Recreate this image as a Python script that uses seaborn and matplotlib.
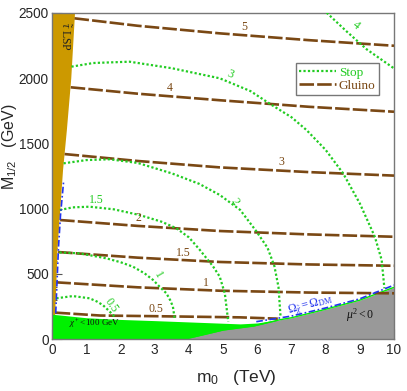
import numpy as np
import pandas as pd
import matplotlib
matplotlib.use('Agg')
import matplotlib.pyplot as plt
import seaborn as sns
from matplotlib.lines import Line2D

# ---------------- data (m0 in TeV, M1/2 in GeV) ----------------
# gluino mass contours (TeV)
gluino_levels = ['5', '4', '3', '2', '1.5', '1', '0.5']
gluino_m0 = {
    '5':   [0.65, 2.5, 4.9, 7.5, 10.0],
    '4':   [0.54, 2.5, 4.9, 7.5, 10.0],
    '3':   [0.36, 2.5, 4.9, 7.5, 10.0],
    '2':   [0.23, 2.5, 4.9, 7.5, 10.0],
    '1.5': [0.17, 2.5, 4.9, 7.5, 10.0],
    '1':   [0.12, 2.5, 4.9, 7.5, 10.0],
    '0.5': [0.10, 1.4, 3.0, 5.5, 6.6],
}
gluino_M = {
    '5':   [2457, 2400, 2342, 2290, 2247],
    '4':   [1929, 1880, 1830, 1780, 1742],
    '3':   [1418, 1365, 1316, 1280, 1253],
    '2':   [913, 868, 829, 803, 785],
    '1.5': [668, 625, 592, 573, 563],
    '1':   [436, 398, 372, 358, 352],
    '0.5': [204, 182, 177, 168, 158],
}
gluino_label_pos = {'5': (5.63, 2388), '4': (3.44, 1921), '3': (6.7, 1360),
                    '2': (2.53, 926), '1.5': (3.83, 658), '1': (4.49, 433),
                    '0.5': (3.03, 230)}

# stop mass contours (TeV)
stop_levels = ['4', '3', '2', '1.5', '1', '0.5']
stop_m0 = {
    '4':   [8.03, 8.6, 9.2, 10.0],
    '3':   [0.56, 1.2, 2.26, 3.5, 4.9, 5.8, 6.42, 7.0, 7.44, 8.0, 8.51, 9.0, 9.44, 9.64, 9.72],
    '2':   [0.33, 1.0, 1.68, 2.5, 3.5, 4.3, 4.9, 5.5, 5.98, 6.3, 6.5, 6.62, 6.68],
    '1.5': [0.22, 0.6, 1.09, 1.8, 2.56, 3.2, 3.63, 4.0, 4.3, 4.5, 4.7, 4.9, 5.05, 5.15],
    '1':   [0.21, 0.8, 1.58, 2.0, 2.36, 2.7, 2.95, 3.15, 3.34, 3.45, 3.53, 3.58],
    '0.5': [0.12, 0.6, 1.09, 1.3, 1.48, 1.65, 1.82],
}
stop_M = {
    '4':   [2500, 2360, 2220, 2074],
    '3':   [2087, 2115, 2125, 2075, 1998, 1900, 1794, 1700, 1602, 1450, 1271, 1040, 785, 607, 390],
    '2':   [1347, 1372, 1378, 1350, 1270, 1190, 1105, 990, 824, 700, 560, 400, 175],
    '1.5': [990, 1010, 1015, 995, 951, 900, 850, 780, 690, 625, 560, 480, 350, 135],
    '1':   [665, 658, 620, 590, 556, 505, 454, 400, 352, 300, 250, 160],
    '0.5': [314, 331, 314, 290, 262, 220, 175],
}
stop_label_pos = {'4': (8.9, 2406, -38), '3': (5.2, 2030, -22), '2': (5.34, 1053, -55),
                  '1.5': (1.29, 1066, 0), '1': (3.09, 492, -60), '0.5': (1.73, 262, -55)}

# excluded / special regions
stau_M = [0, 190, 400, 700, 1000, 1300, 1600, 2000, 2500]
stau_m0 = [0.06, 0.07, 0.10, 0.14, 0.22, 0.30, 0.41, 0.54, 0.65]
chargino_m0 = [0, 1, 2, 3, 4, 5, 5.5, 6, 6.6]
chargino_M = [192, 165, 152, 143, 133, 123, 118, 125, 150]
mu2_m0 = [3.85, 4.5, 5.0, 5.9, 6.66, 7.0, 8.0, 9.0, 10.0]
mu2_M = [0, 40, 71, 102, 150, 165, 230, 300, 398]
relic_left_m0 = [0.10, 0.14, 0.18, 0.24, 0.33]
relic_left_M = [200, 450, 700, 950, 1206]
relic_right_m0 = [5.97, 7.0, 8.0, 9.0, 10.0]
relic_right_M = [135, 178, 240, 310, 415]

x_ticks = [0, 1, 2, 3, 4, 5, 6, 7, 8, 9, 10]
y_ticks = [0, 500, 1000, 1500, 2000, 2500]

# ---------------- style ----------------
sns.set_style('ticks')
plt.rcParams['font.family'] = ['Liberation Sans', 'DejaVu Sans']
plt.rcParams['mathtext.fontset'] = 'custom'
plt.rcParams['mathtext.rm'] = 'Liberation Serif'
plt.rcParams['mathtext.it'] = 'Liberation Serif:italic'
plt.rcParams['mathtext.sf'] = 'Liberation Sans'

C_GOLD = '#cc9900'
C_LIME = '#00f000'
C_GRAY = '#999999'
C_BROWN = '#7a4814'
C_STOP = '#22cc22'
C_BLUE = '#2233ee'
SERIF = ['Liberation Serif', 'DejaVu Serif']

fig = plt.figure(figsize=(4.07, 3.91), dpi=100)
ax = fig.add_axes([0.1285, 0.1322, 0.8395, 0.8353])

# regions
ax.fill_betweenx(stau_M, 0, stau_m0, color=C_GOLD, lw=0, zorder=1)
ax.fill_between(chargino_m0, 0, chargino_M, color=C_LIME, lw=0, zorder=1)
ax.fill_between(mu2_m0, 0, mu2_M, color=C_GRAY, lw=0, zorder=2)
sns.lineplot(x=mu2_m0, y=mu2_M, sort=False, color=C_LIME, lw=1.0, ax=ax, zorder=2)

# gluino contours
g_rows = []
for lv in gluino_levels:
    for a, b in zip(gluino_m0[lv], gluino_M[lv]):
        g_rows.append((lv, a, b))
gdf = pd.DataFrame(g_rows, columns=['level', 'm0', 'M'])
sns.lineplot(data=gdf, x='m0', y='M', units='level', estimator=None, sort=False,
             color=C_BROWN, lw=1.9, linestyle=(0, (5.5, 1.2)), ax=ax, zorder=4)

# stop contours
s_rows = []
for lv in stop_levels:
    for a, b in zip(stop_m0[lv], stop_M[lv]):
        s_rows.append((lv, a, b))
sdf = pd.DataFrame(s_rows, columns=['level', 'm0', 'M'])
sns.lineplot(data=sdf, x='m0', y='M', units='level', estimator=None, sort=False,
             color=C_STOP, lw=1.6, linestyle=(0, (1, 1)), ax=ax, zorder=5)

# relic density line
for xs, ys in ((relic_left_m0, relic_left_M), (relic_right_m0, relic_right_M)):
    sns.lineplot(x=xs, y=ys, sort=False, color=C_BLUE, lw=1.2,
                 linestyle=(0, (4, 1.5, 1, 1.5)), ax=ax, zorder=6)

# labels on contours
for lv, (x, y) in gluino_label_pos.items():
    ax.text(x, y, lv, color=C_BROWN, fontsize=8.5, family=SERIF,
            ha='center', va='center', zorder=7)
for lv, (x, y, r) in stop_label_pos.items():
    ax.text(x, y, lv, color=C_STOP, fontsize=8.5, family=SERIF, rotation=r,
            ha='center', va='center', zorder=7)

ax.text(0.36, 2318, r'$\tilde{\tau}$ LSP', rotation=270, fontsize=8.5, family=SERIF,
        ha='center', va='center', color='#222222', zorder=7)
ax.text(1.24, 118, r'$\chi^{+}<100$ GeV', fontsize=6.5, family=SERIF,
        ha='center', va='center', color='#111111', zorder=7)
ax.text(9.0, 185, r'$\mu^{2}<0$', fontsize=8.5, family=SERIF,
        ha='center', va='center', color='#111111', zorder=7)
ax.text(7.55, 263, r'$\Omega_{\tilde{\chi}}=\Omega_{\rm DM}$', fontsize=8.5, rotation=15,
        ha='center', va='center', color=C_BLUE, zorder=7)

# legend
handles = [Line2D([], [], color=C_STOP, lw=1.6, linestyle=(0, (1, 1))),
           Line2D([], [], color=C_BROWN, lw=1.9, linestyle=(0, (5.5, 1.2)))]
leg = ax.legend(handles, ['Stop', 'Gluino'], loc='upper left', bbox_to_anchor=(0.713, 0.846),
                prop={'family': SERIF, 'size': 9.5}, frameon=True, fancybox=False,
                edgecolor='#777777', framealpha=1, borderpad=0.25, handlelength=2.8,
                handletextpad=0.2, labelspacing=0.1, borderaxespad=0)
for t, c in zip(leg.get_texts(), [C_STOP, C_BROWN]):
    t.set_color(c)
leg.get_frame().set_linewidth(1.0)

# axes
ax.set_xlim(0, 10)
ax.set_ylim(0, 2500)
ax.set_xticks(x_ticks)
ax.set_yticks(y_ticks)
ax.set_xticks(np.arange(0, 10.01, 0.2), minor=True)
ax.set_yticks(np.arange(0, 2501, 100), minor=True)
ax.tick_params(axis='both', which='major', direction='in', length=7, width=0.8,
               color='#555555', labelsize=9.8, pad=2.5)
ax.tick_params(axis='both', which='minor', direction='in', length=3.5, width=0.8,
               color='#555555')
for s in ax.spines.values():
    s.set_color('#777777')
    s.set_linewidth(1.0)
ax.set_xlabel(r'm$_\mathsf{0}$   (TeV)', fontsize=12.5, va='center')
ax.set_ylabel(r'M$_\mathsf{1/2}$   (GeV)', fontsize=11.5, va='center')
ax.xaxis.set_label_coords(0.54, -0.118)
ax.yaxis.set_label_coords(-0.124, 0.59)

fig.savefig('out.png', dpi=100)
